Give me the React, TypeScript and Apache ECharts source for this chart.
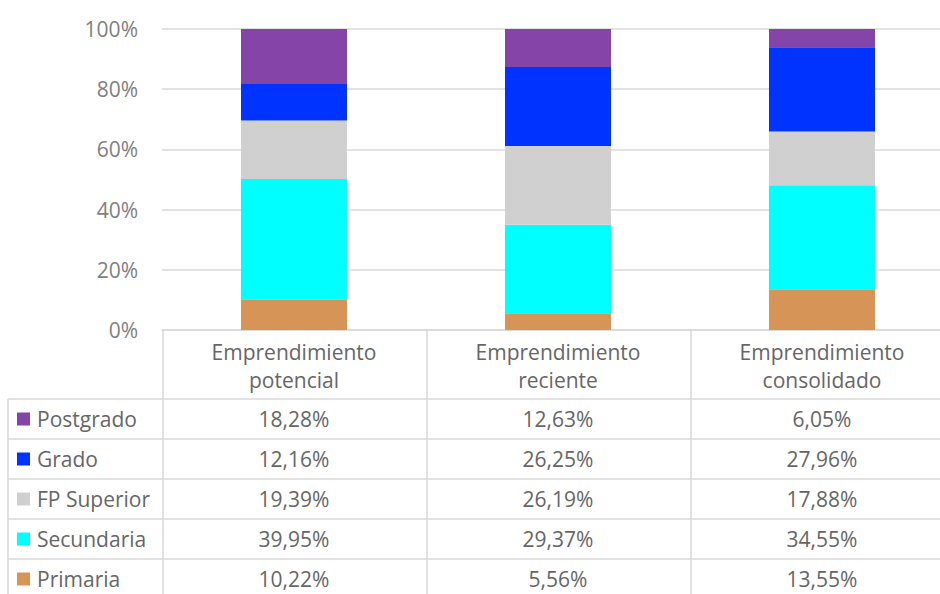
import React, { useEffect, useRef } from "react";
import * as echarts from "echarts";

const categories = ["Emprendimiento\npotencial", "Emprendimiento\nreciente", "Emprendimiento\nconsolidado"];
const seriesNames = ["Primaria", "Secundaria", "FP Superior", "Grado", "Postgrado"];
const primaria = [10.22, 5.56, 13.55];
const secundaria = [39.95, 29.37, 34.55];
const fpSuperior = [19.39, 26.19, 17.88];
const grado = [12.16, 26.25, 27.96];
const postgrado = [18.28, 12.63, 6.05];
const colors = ["#D69456", "#00FFFF", "#D0D0D0", "#0033FF", "#8545A8"];
const yTicks = [0, 20, 40, 60, 80, 100];

const fmt = (v: number) => v.toFixed(2).replace(".", ",") + "%";

const CHART_W = 960;

export default function App() {
  const ref = useRef<HTMLDivElement>(null);
  useEffect(() => {
    if (!ref.current) return;
    const chart = echarts.init(ref.current, null, { renderer: "svg" });
    const values = [primaria, secundaria, fpSuperior, grado, postgrado];
    const gridLeft = 162;
    const catW = 264;
    const gridTop = 29;
    const gridBottomY = 330;
    const headerBottom = 399;
    const rowH = 40;
    const tableLeft = 8;
    const lineColor = "#D9D9D9";
    const textColor = "#666666";
    const font = "Open Sans";

    const graphics: any[] = [];
    for (let r = 0; r <= 5; r++) {
      const y = headerBottom + r * rowH;
      graphics.push({
        type: "line",
        shape: { x1: tableLeft, y1: y, x2: CHART_W, y2: y },
        style: { stroke: lineColor, lineWidth: 1.5 },
        silent: true,
      });
    }
    graphics.push({
      type: "line",
      shape: { x1: tableLeft, y1: headerBottom, x2: tableLeft, y2: 594 },
      style: { stroke: lineColor, lineWidth: 1.5 },
    });
    for (let c = 0; c < 3; c++) {
      const x = gridLeft + c * catW + 1;
      graphics.push({
        type: "line",
        shape: { x1: x, y1: gridBottomY, x2: x, y2: 594 },
        style: { stroke: lineColor, lineWidth: 1.5 },
      });
    }
    const rowOrder = [4, 3, 2, 1, 0];
    rowOrder.forEach((si, r) => {
      const cy = headerBottom + r * rowH + rowH / 2;
      graphics.push({
        type: "rect",
        shape: { x: 17, y: cy - 6.5, width: 13, height: 13 },
        style: { fill: colors[si] },
      });
      graphics.push({
        type: "text",
        x: 37,
        y: cy,
        style: {
          text: seriesNames[si],
          fill: textColor,
          font: `21px '${font}'`,
          textVerticalAlign: "middle",
          textAlign: "left",
        },
      });
      for (let c = 0; c < 3; c++) {
        graphics.push({
          type: "text",
          x: gridLeft + catW * (c + 0.5),
          y: cy,
          style: {
            text: fmt(values[si][c]),
            fill: textColor,
            font: `21px '${font}'`,
            textVerticalAlign: "middle",
            textAlign: "center",
          },
        });
      }
    });

    chart.setOption({
      animation: false,
      textStyle: { fontFamily: font },
      grid: { left: gridLeft, top: gridTop, right: CHART_W - gridLeft - catW * 3, bottom: 594 - gridBottomY, containLabel: false },
      xAxis: {
        type: "category",
        data: categories,
        axisTick: { show: false },
        axisLine: { show: true, lineStyle: { color: lineColor, width: 1.5 } },
        axisLabel: {
          interval: 0,
          color: textColor,
          fontSize: 21,
          lineHeight: 28,
          margin: 8,
          fontFamily: font,
        },
      },
      yAxis: {
        type: "value",
        min: yTicks[0],
        max: yTicks[yTicks.length - 1],
        interval: 20,
        axisLine: { show: false },
        axisTick: { show: false },
        splitLine: { lineStyle: { color: lineColor, width: 1.5 } },
        axisLabel: {
          formatter: (v: number) => v + "%",
          color: "#808080",
          fontSize: 21,
          margin: 24,
          fontFamily: font,
        },
      },
      series: values.map((d, i) => ({
        name: seriesNames[i],
        type: "bar",
        stack: "total",
        barWidth: 106,
        data: d,
        itemStyle: { color: colors[i] },
      })),
      graphic: graphics,
    });
    return () => chart.dispose();
  }, []);
  return (
    <div style={{ position: "fixed", left: 0, top: 0, width: 940, height: 594, overflow: "hidden", background: "#fff" }}>
      <div ref={ref} style={{ width: CHART_W, height: 594 }} />
    </div>
  );
}
